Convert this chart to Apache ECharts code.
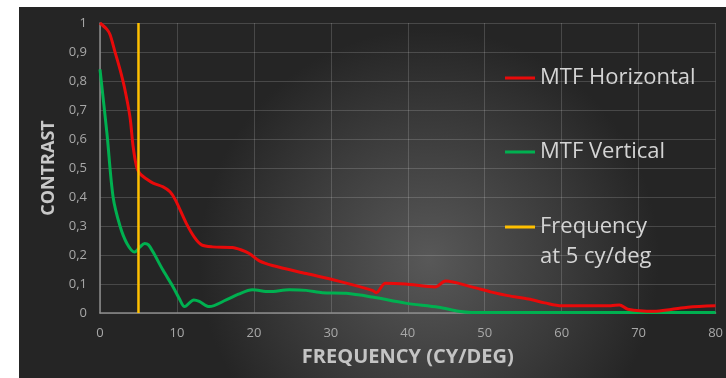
<!DOCTYPE html>
<html><head><meta charset="utf-8">
<script src="https://cdn.jsdelivr.net/npm/echarts@6/dist/echarts.min.js"></script>
<style>html,body{margin:0;padding:0;background:#fff}#c{width:726px;height:378px}</style>
</head><body><div id="c"></div>
<script>
// Data
const freqH = [0,0.9,1.3,1.9,2.6,3.2,3.9,4.3,4.75,5.2,6.0,6.9,8.2,9.1,9.8,11.2,12.3,13.2,14.6,17.2,18.3,19.4,20.7,22.4,26.8,31,35.4,35.9,37.1,39.7,43.6,44.9,48.3,50.9,53,55.7,57.8,60,66.4,67.5,68.6,72,74.2,76.4,80];
const contrastH = [1,0.978,0.96,0.905,0.84,0.775,0.675,0.575,0.505,0.48,0.463,0.448,0.435,0.418,0.39,0.31,0.26,0.235,0.228,0.226,0.218,0.205,0.18,0.164,0.136,0.11,0.078,0.07,0.103,0.10,0.09,0.11,0.09,0.072,0.06,0.048,0.035,0.025,0.025,0.028,0.013,0.006,0.012,0.02,0.025];
const freqV = [0,0.9,1.7,2.6,3.5,4.5,5.2,5.8,6.3,6.9,8.2,9.5,10.3,11,12.2,12.9,14.2,16.4,18,19.8,22,24.6,26.8,28.9,32,35.4,39.7,44,46.6,48.3,55,80];
const contrastV = [0.84,0.62,0.40,0.30,0.24,0.21,0.228,0.24,0.235,0.21,0.147,0.09,0.05,0.022,0.045,0.04,0.022,0.045,0.065,0.08,0.074,0.08,0.078,0.07,0.068,0.055,0.034,0.02,0.006,0.002,0.002,0.002];
const markerFreq = [5,5];
const markerContrast = [0,1];
const seriesNames = ['MTF Horizontal','MTF Vertical','Frequency at 5 cy/deg'];
const xTitle = 'FREQUENCY (CY/DEG)';
const yTitle = 'CONTRAST';

const zip = (a,b)=>a.map((v,i)=>[v,b[i]]);
const chart = echarts.init(document.getElementById('c'));
const labelColor = '#a8a8a8';
const font = "'Open Sans', sans-serif";
const legendBase = {orient:'vertical', padding:0, itemWidth:30, itemHeight:3, icon:'rect',
  textStyle:{color:'#d4d4d4', fontSize:22, fontFamily:font, lineHeight:26}};
chart.setOption({
  animation:false,
  graphic:[{type:'rect', z:-100, silent:true, shape:{x:19,y:7,width:707,height:371},
    style:{fill:new echarts.graphic.RadialGradient(0.58,0.68,0.62,[
      {offset:0,color:'#585858'},{offset:0.6,color:'#3a3a3a'},{offset:1,color:'#252525'}])}}],
  grid:{left:100,right:8,top:23,bottom:65},
  xAxis:{type:'value', min:0, max:80, interval:10,
    name:xTitle, nameLocation:'middle', nameGap:34,
    nameTextStyle:{color:'#c4c4c4', fontSize:20, fontWeight:'bold', fontFamily:font},
    axisLine:{show:true, lineStyle:{color:'#8c8c8c', width:1.5}},
    axisTick:{show:false},
    axisLabel:{color:labelColor, fontSize:13, fontFamily:font, margin:14},
    splitLine:{show:true, lineStyle:{color:'rgba(255,255,255,0.16)', width:1}}},
  yAxis:{type:'value', min:0, max:1, interval:0.1,
    name:yTitle, nameLocation:'middle', nameRotate:90, nameGap:40,
    nameTextStyle:{color:'#c8c8c8', fontSize:18, fontWeight:'bold', fontFamily:font},
    axisLine:{show:true, lineStyle:{color:'#8c8c8c', width:1.5}},
    axisTick:{show:false},
    axisLabel:{color:labelColor, fontSize:13, fontFamily:font, margin:13,
      formatter:v=>String(Math.round(v*10)/10).replace('.',',')},
    splitLine:{show:true, lineStyle:{color:'rgba(255,255,255,0.16)', width:1}}},
  legend:[
    Object.assign({left:505, top:65, data:[seriesNames[0]]}, legendBase),
    Object.assign({left:505, top:139, data:[seriesNames[1]]}, legendBase),
    Object.assign({}, legendBase, {left:505, top:182, data:[seriesNames[2]],
      formatter:()=>'\nFrequency\nat 5 cy/deg',
      textStyle:{color:'#d4d4d4', fontSize:22, fontFamily:font, lineHeight:30}})
  ],
  series:[
    {name:seriesNames[0], type:'line', data:zip(freqH,contrastH), smooth:0.3,
      showSymbol:false, lineStyle:{color:'#e80a0a', width:3}, itemStyle:{color:'#e80a0a'}, z:3},
    {name:seriesNames[1], type:'line', data:zip(freqV,contrastV), smooth:0.3,
      showSymbol:false, lineStyle:{color:'#00b050', width:3}, itemStyle:{color:'#00b050'}, z:2},
    {name:seriesNames[2], type:'line', data:zip(markerFreq,markerContrast), showSymbol:false,
      lineStyle:{color:'#ffc000', width:2.5}, itemStyle:{color:'#ffc000'}, z:4}
  ]
});
</script></body></html>
